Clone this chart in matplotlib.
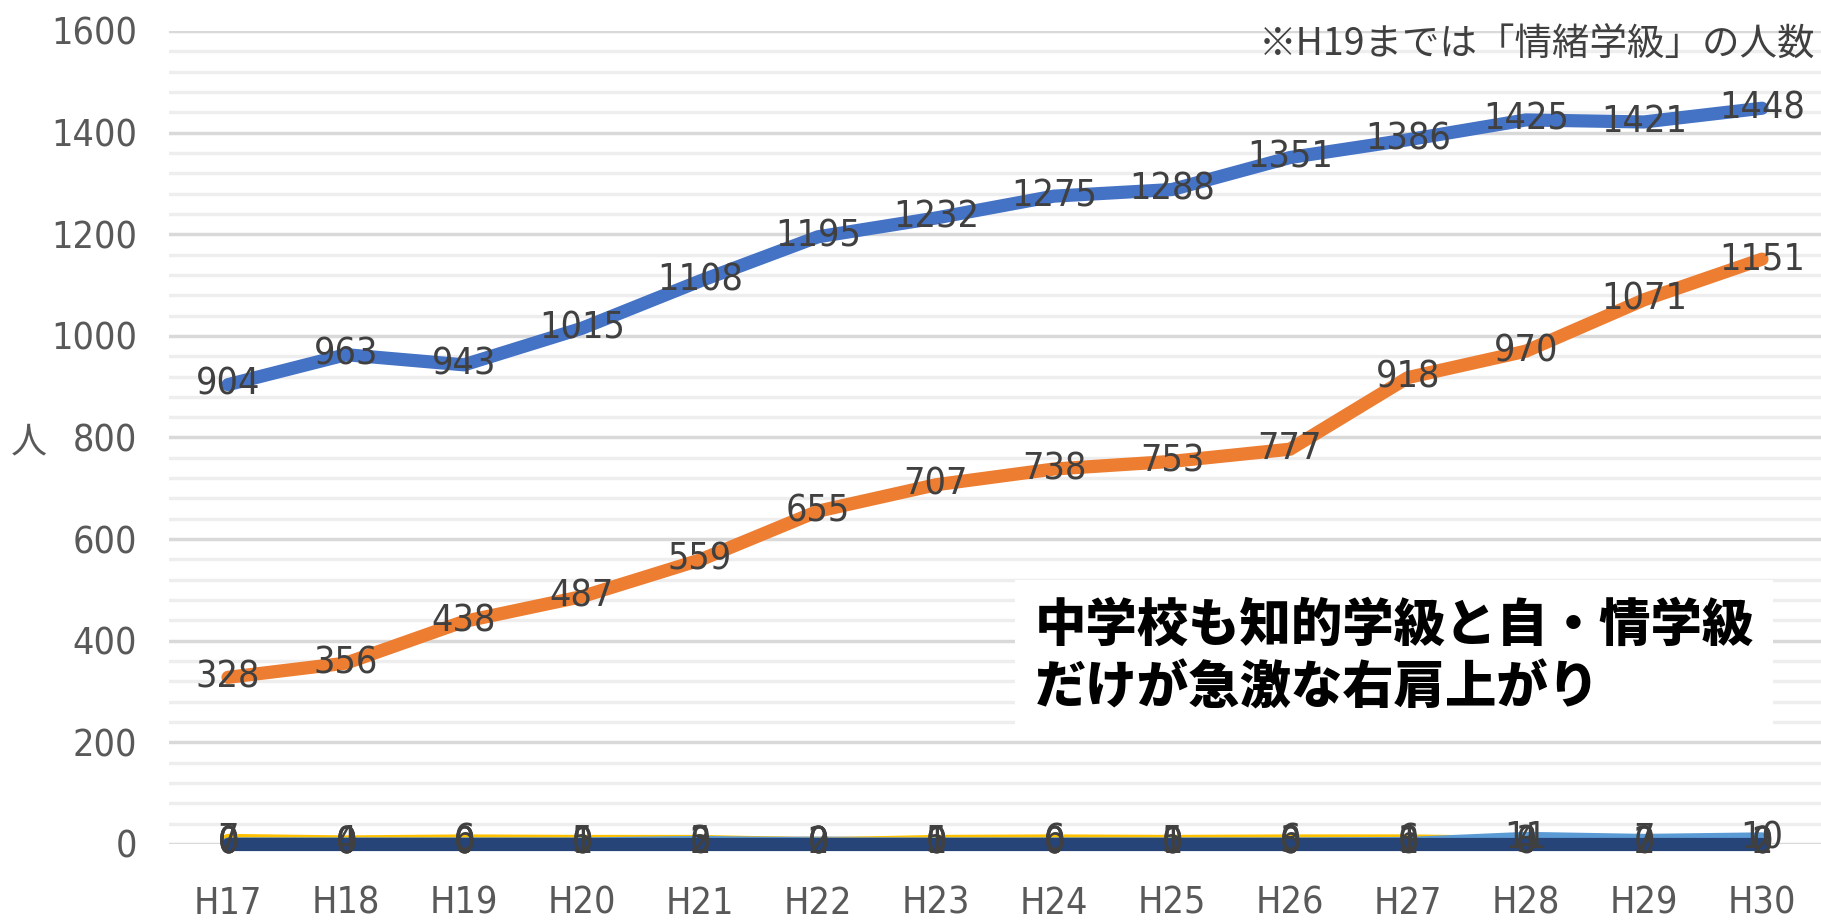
import numpy as np
from matplotlib import pyplot as plt
from matplotlib.ticker import MultipleLocator

years = ['H17', 'H18', 'H19', 'H20', 'H21', 'H22', 'H23',
         'H24', 'H25', 'H26', 'H27', 'H28', 'H29', 'H30']

chiteki = [904, 963, 943, 1015, 1108, 1195, 1232, 1275, 1288, 1351, 1386, 1425, 1421, 1448]
jijo = [328, 356, 438, 487, 559, 655, 707, 738, 753, 777, 918, 970, 1071, 1151]
gengo = [7, 4, 6, 5, 5, 0, 5, 6, 5, 6, 6, 3, 2, 2]
nanchou = [0, 0, 0, 0, 3, 0, 0, 0, 0, 0, 1, 11, 7, 10]
jakushi = [0, 0, 0, 1, 2, 2, 1, 0, 1, 3, 3, 4, 2, 0]
byoujaku = [0, 0, 0, 0, 0, 0, 0, 0, 0, 0, 0, 0, 0, 0]

series = [
    (chiteki, '#4472C4'),
    (jijo, '#ED7D31'),
    (jakushi, '#A5A5A5'),
    (gengo, '#FFC000'),
    (nanchou, '#5B9BD5'),
    (byoujaku, '#264478'),
]

num_font = ['DejaVu Sans']
jp_font = ['Noto Sans CJK JP', 'DejaVu Sans']
label_col = '#404040'

fig = plt.figure(figsize=(18.21, 9.23), dpi=100)
ax = fig.add_axes([169 / 1821, 79 / 923, 1 - 169 / 1821, 813 / 923])

x = np.arange(len(years))
for vals, col in series:
    ax.plot(x, vals, color=col, lw=9.5, solid_capstyle='round', clip_on=False, zorder=3)

for vals, col in series:
    for xi, v in zip(x, vals):
        ax.text(xi, v, str(v), ha='center', va='center', fontsize=27,
                family=num_font, stretch='condensed', color=label_col, zorder=5)

ax.set_xlim(-0.5, len(years) - 0.5)
ax.set_ylim(0, 1600)
ax.yaxis.set_major_locator(MultipleLocator(200))
ax.yaxis.set_minor_locator(MultipleLocator(40))
ax.grid(axis='y', which='major', color='#D9D9D9', lw=2.5, zorder=0)
ax.grid(axis='y', which='minor', color='#EEEEEE', lw=2.5, zorder=0)
ax.set_xticks(x)
ax.set_xticklabels(years)
for s in ax.spines.values():
    s.set_visible(False)
ax.tick_params(which='both', length=0)
ax.tick_params(axis='y', pad=23)
ax.tick_params(axis='x', pad=30)
for lab in ax.get_xticklabels() + ax.get_yticklabels():
    lab.set_family(num_font)
    lab.set_stretch('condensed')
    lab.set_fontsize(27)
    lab.set_color('#595959')

fig.text(29 / 1821, 1 - 442 / 923, '人', family=jp_font, fontsize=26,
         color='#595959', ha='center', va='center')

fig.text(1815 / 1821, 1 - 45 / 923, '※H19までは「情緒学級」の人数', family=jp_font,
         fontsize=27, color='#404040', ha='right', va='center')

ax.text(0.524, 0.23, '中学校も知的学級と自・情学級\nだけが急激な右肩上がり',
        transform=ax.transAxes, family=jp_font, fontweight='heavy', fontsize=37,
        color='black', ha='left', va='center', linespacing=1.25, zorder=6,
        bbox=dict(facecolor='white', edgecolor='none', pad=14))

fig.savefig('out.png', dpi=100)
